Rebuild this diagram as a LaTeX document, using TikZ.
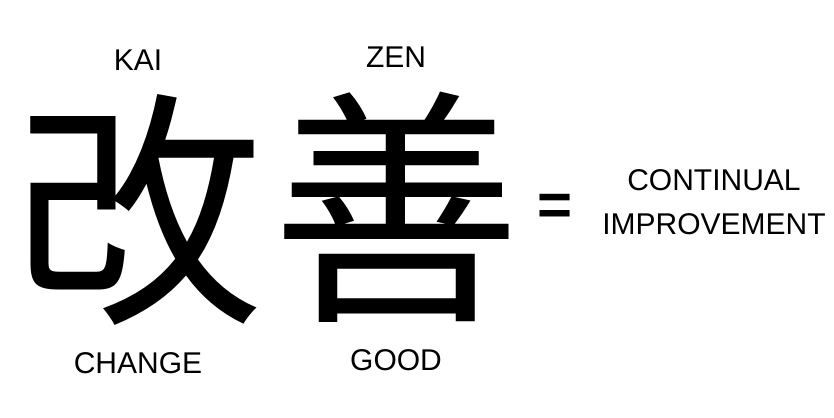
\documentclass[tikz,border=0pt]{standalone}
\usepackage{fontspec}
\setmainfont{Liberation Sans}
\newfontfamily\kanjifont{Noto Sans CJK JP}
\usetikzlibrary{positioning}
\begin{document}
\begin{tikzpicture}[x=1pt, y=-1pt, node distance=24pt,
                    every node/.style = {inner sep=0pt, outer sep=0pt},
                    kanji/.style = {font=\kanjifont\fontsize{250}{250}\selectfont},
                    word/.style = {font=\fontsize{30}{44}\selectfont, align=center}]
  \useasboundingbox[fill=white] (0,0) rectangle (834,417);
  \node[kanji] (kai) at (138,210) {改};
  \node[kanji] (zen) at (396,207) {善};
  \node[word, above=of kai] (kaiword) {KAI};
  \node[word, above=of zen] (zenword) {ZEN};
  \node[word, below=27pt of kai] (change) {CHANGE};
  \node[word, below=27pt of zen] (good) {GOOD};
  \node[word, font=\fontsize{60}{60}\bfseries] (equals) at (555,210) {=};
  \node[word] (meaning) at (714,202) {CONTINUAL\\IMPROVEMENT};
\end{tikzpicture}
\end{document}
